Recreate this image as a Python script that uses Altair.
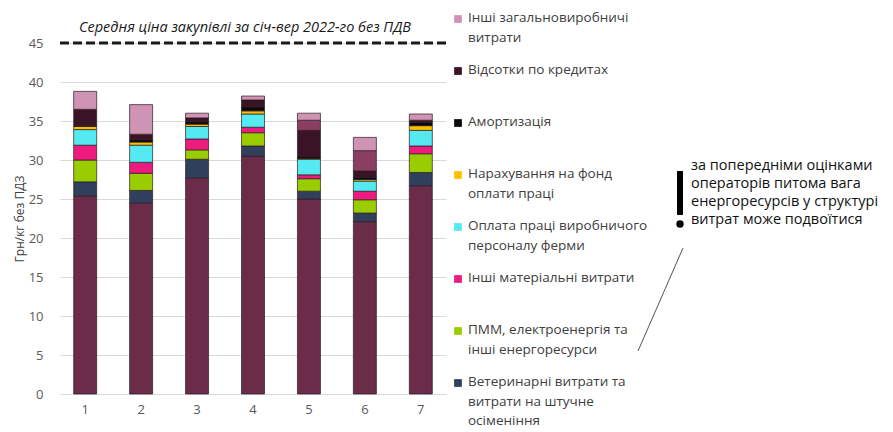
import altair as alt
import pandas as pd

FONT = "Open Sans"

periods = ["1", "2", "3", "4", "5", "6", "7"]

series = [
    "Корми",
    "Ветеринарні витрати та витрати на штучне осіменіння",
    "ПММ, електроенергія та інші енергоресурси",
    "Інші матеріальні витрати",
    "Оплата праці виробничого персоналу ферми",
    "Нарахування на фонд оплати праці",
    "Амортизація",
    "Відсотки по кредитах",
    "Інші витрати",
    "Інші загальновиробничі витрати",
]

feed = [25.4, 24.5, 27.7, 30.5, 25.0, 22.1, 26.7]
vet = [1.8, 1.6, 2.4, 1.3, 1.0, 1.1, 1.7]
energy = [2.8, 2.2, 1.2, 1.7, 1.6, 1.7, 2.4]
materials = [1.9, 1.4, 1.4, 0.7, 0.5, 1.1, 1.0]
wages = [2.0, 2.2, 1.6, 1.7, 2.0, 1.3, 2.0]
payroll_tax = [0.4, 0.4, 0.3, 0.4, 0.1, 0.2, 0.6]
depreciation = [0.1, 0.3, 0.3, 0.5, 0.2, 0.3, 0.4]
interest = [2.1, 0.7, 0.5, 0.9, 3.4, 0.8, 0.3]
other = [0.0, 0.0, 0.0, 0.0, 1.3, 2.6, 0.0]
overhead = [2.3, 3.8, 0.6, 0.5, 0.9, 1.7, 0.8]

values = [feed, vet, energy, materials, wages, payroll_tax, depreciation,
          interest, other, overhead]

colors = ["#6B2C4A", "#2F3F5C", "#9ACD00", "#EE1A7E", "#55E9F2", "#FFC000",
          "#0A0A0A", "#3A1426", "#8C3D62", "#CF93B4"]

y_ticks = [0, 5, 10, 15, 20, 25, 30, 35, 40, 45]

avg_price = [45.0]
avg_title = "Середня ціна закупівлі за січ-вер 2022-го без ПДВ"

legend_series = [
    "Інші загальновиробничі витрати",
    "Відсотки по кредитах",
    "Амортизація",
    "Нарахування на фонд оплати праці",
    "Оплата праці виробничого персоналу ферми",
    "Інші матеріальні витрати",
    "ПММ, електроенергія та інші енергоресурси",
    "Ветеринарні витрати та витрати на штучне осіменіння",
]
legend_text = [
    "Інші загальновиробничі\nвитрати",
    "Відсотки по кредитах",
    "Амортизація",
    "Нарахування на фонд\nоплати праці",
    "Оплата праці виробничого\nперсоналу ферми",
    "Інші матеріальні витрати",
    "ПММ, електроенергія та\nінші енергоресурси",
    "Ветеринарні витрати та\nвитрати на штучне\nосіменіння",
]

note_text = ["за попередніми оцінками\nоператорів питома вага\nенергоресурсів у структурі\nвитрат може подвоїтися"]

rows = []
for i, (s, vals) in enumerate(zip(series, values)):
    for p, v in zip(periods, vals):
        if v > 0:
            rows.append({"period": p, "series": s, "idx": i, "value": v})
df = pd.DataFrame(rows)

color_scale = alt.Scale(domain=series, range=colors)
y_scale = alt.Scale(domain=[0, 45], nice=False)
y_axis = alt.Axis(values=y_ticks, title="Грн/кг без ПДЗ",
                  titleFontSize=12, titleFontWeight="normal", titleColor="#404040",
                  titleFont=FONT, titlePadding=2,
                  labelFontSize=13, labelColor="#595959", labelFont=FONT,
                  labelPadding=17, labelOverlap=False, labelFlush=False,
                  ticks=False, domain=False,
                  gridColor="#D9D9D9", gridWidth=1)

bars = alt.Chart(df).mark_bar(size=23, stroke="#2b1b24", strokeWidth=0.7).encode(
    x=alt.X("period:N", sort=periods,
            scale=alt.Scale(paddingInner=0.5, paddingOuter=0.2),
            axis=alt.Axis(title=None, labelAngle=0, ticks=False, labelPadding=9,
                          labelFontSize=13, labelColor="#595959", labelFont=FONT,
                          domainColor="#D9D9D9", grid=False)),
    y=alt.Y("value:Q", stack="zero", scale=y_scale, axis=y_axis),
    color=alt.Color("series:N", scale=color_scale, legend=None),
    order=alt.Order("idx:Q", sort="ascending"),
)

avg_df = pd.DataFrame({"value": avg_price})
avg_rule = alt.Chart(avg_df).mark_rule(strokeDash=[9, 4], strokeWidth=3, color="#1a1a1a").encode(
    y=alt.Y("value:Q", scale=y_scale, axis=y_axis)
)
avg_txt = alt.Chart(avg_df).mark_text(text=avg_title, fontStyle="italic", fontSize=14.5,
                                      font=FONT, color="#1a1a1a", dy=-15).encode(
    y=alt.Y("value:Q", scale=y_scale, axis=y_axis), x=alt.value(185)
)

inner = alt.layer(bars, avg_rule, avg_txt)

leg_df = pd.DataFrame({"series": legend_series, "label": legend_text,
                       "rank": list(range(len(legend_series)))})
leg_y = alt.Y("rank:O", scale=alt.Scale(type="point", range=[-24, 340], padding=0), axis=None)
leg_sq = alt.Chart(leg_df).mark_square(size=60, opacity=1).encode(
    x=alt.value(398), y=leg_y,
    color=alt.Color("series:N", scale=color_scale, legend=None),
)
leg_tx = alt.Chart(leg_df).mark_text(align="left", baseline="top", dy=-8, lineBreak="\n",
                                     fontSize=13.5, lineHeight=19.5, color="#404040",
                                     font=FONT).encode(
    x=alt.value(408), y=leg_y, text="label:N"
)

note_df = pd.DataFrame({"t": note_text})
excl_bar = alt.Chart(note_df).mark_rule(strokeWidth=6, color="#000000", strokeCap="butt").encode(
    x=alt.value(620), y=alt.value(128), y2=alt.value(172)
)
excl_dot = alt.Chart(note_df).mark_circle(size=55, opacity=1, color="#000000").encode(
    x=alt.value(620), y=alt.value(181)
)
note_line = alt.Chart(note_df).mark_rule(strokeWidth=1, color="#555555").encode(
    x=alt.value(623), y=alt.value(205), x2=alt.value(578), y2=alt.value(308)
)
note_tx = alt.Chart(note_df).mark_text(align="left", baseline="top", lineBreak="\n",
                                       fontSize=14.5, lineHeight=18, color="#111111",
                                       font=FONT).encode(
    x=alt.value(631), y=alt.value(116), text="t:N"
)

chart = alt.layer(inner, leg_sq, leg_tx, excl_bar, excl_dot, note_line, note_tx).resolve_scale(
    y="independent"
).properties(
    width=386, height=351,
    autosize=alt.AutoSizeParams(type="none"),
    padding={"left": 52, "top": 35, "right": 439, "bottom": 38},
).configure_view(stroke=None)

chart.save("out.html", embed_options={"renderer": "svg", "actions": False})
